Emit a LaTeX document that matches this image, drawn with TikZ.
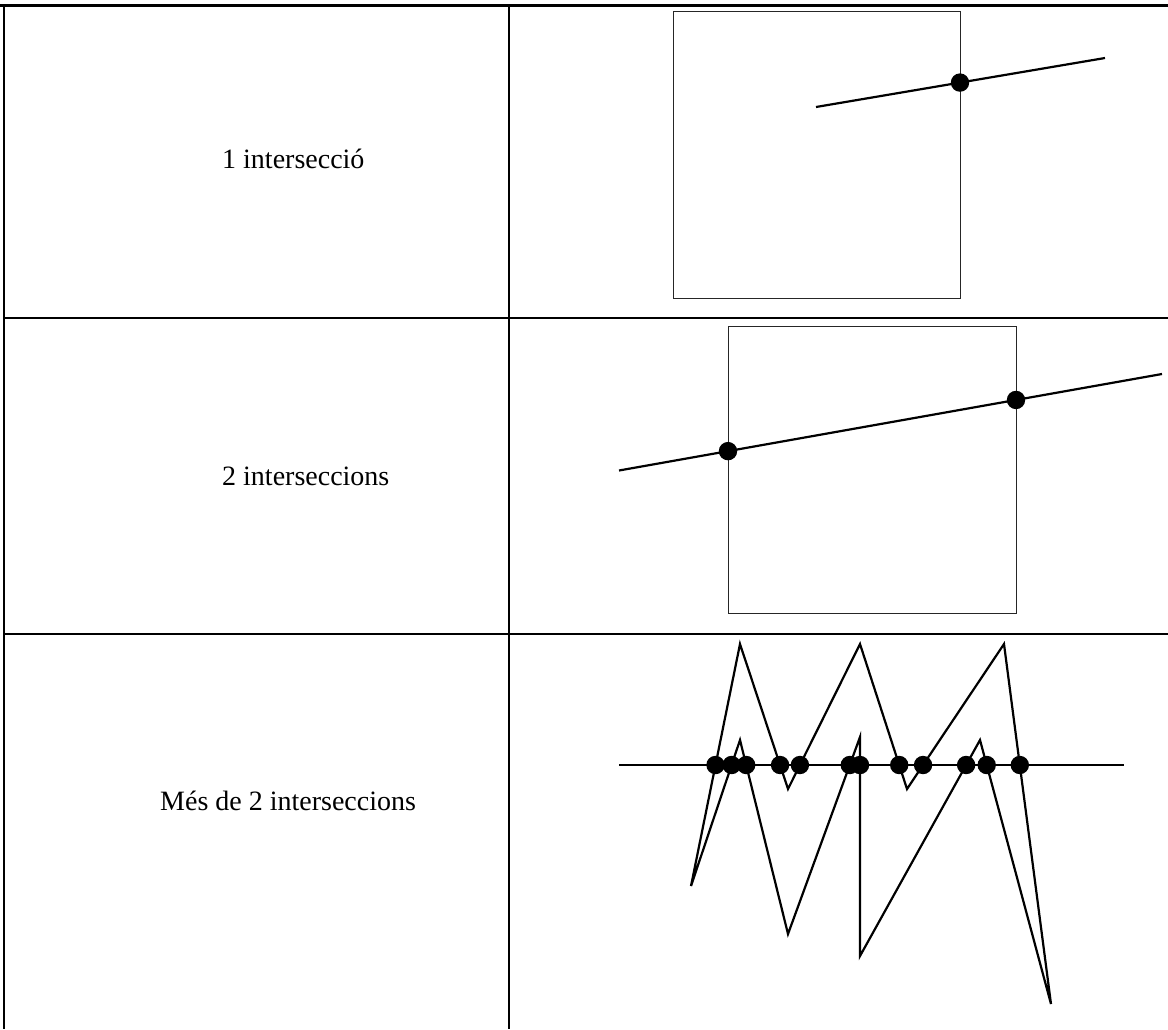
\documentclass[tikz,border=0pt]{standalone}
\usepackage{fontspec}
\setmainfont{Liberation Serif}
\usetikzlibrary{intersections}
\begin{document}
\begin{tikzpicture}[x=1pt,y=-1pt,
  rule/.style={line width=2pt,black},
  frame/.style={line width=1pt,black!85},
  seg/.style={line width=2.2pt,black,line join=miter},
  dot/.style={fill=black},
  label/.style={anchor=base west,inner sep=0pt,font=\fontsize{28}{34}\selectfont}]
\useasboundingbox (0,0) rectangle (1168,1029);
% table
\draw[rule,line width=2.6pt] (0,5.5) -- (1168,5.5);
\draw[rule] (4,5.5) -- (4,1029);
\draw[rule] (509,5.5) -- (509,1029);
\draw[rule] (4,318) -- (1168,318);
\draw[rule] (4,634) -- (1168,634);
% labels
\node[label] (t1) at (222,168) {1 intersecció};
\node[label] (t2) at (222,485) {2 interseccions};
\node[label] (t3) at (160,810) {Més de 2 interseccions};
% row 1
\draw[frame,name path=sq1] (673,11) rectangle (960,298);
\coordinate (a1) at (816,107);
\coordinate (b1) at (1105,58);
\draw[seg,name path=l1] (a1) -- (b1);
\fill[dot,name intersections={of=sq1 and l1,total=\t}]
  \foreach \k in {1,...,\t}{(intersection-\k) circle[radius=9.2]};
% row 2
\draw[frame,name path=sq2] (728,326) rectangle (1016,613);
\coordinate (a2) at (619,470.5);
\coordinate (b2) at (1162,374);
\draw[seg,name path=l2] (a2) -- (b2);
\fill[dot,name intersections={of=sq2 and l2,total=\t}]
  \foreach \k in {1,...,\t}{(intersection-\k) circle[radius=9.2]};
% row 3
\coordinate (p1) at (691,886);
\coordinate (p2) at (740,644);
\coordinate (p3) at (788,789);
\coordinate (p4) at (860,644);
\coordinate (p5) at (907,789);
\coordinate (p6) at (1004,644);
\coordinate (p7) at (1051,1004);
\coordinate (p8) at (980,740);
\coordinate (p9) at (860,956);
\coordinate (p10) at (860,737);
\coordinate (p11) at (788,934);
\coordinate (p12) at (740,740);
\draw[seg,name path=zz] (p1) -- (p2) -- (p3) -- (p4) -- (p5) -- (p6) -- (p7)
  -- (p8) -- (p9) -- (p10) -- (p11) -- (p12) -- cycle;
\coordinate (h1) at (619,765);
\coordinate (h2) at (1124,765);
\draw[seg,name path=hl] (h1) -- (h2);
\fill[dot,name intersections={of=zz and hl,total=\t}]
  \foreach \k in {1,...,\t}{(intersection-\k) circle[radius=9.2]};
\end{tikzpicture}
\end{document}
